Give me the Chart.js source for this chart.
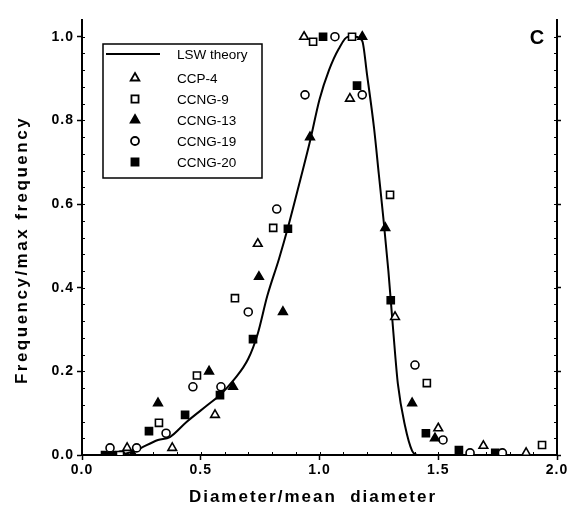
<!DOCTYPE html>
<html>
<head>
<meta charset="utf-8">
<script src="https://cdn.jsdelivr.net/npm/chart.js@4/dist/chart.umd.min.js"></script>
<style>
  html, body { margin: 0; padding: 0; background: #fff; }
  #wrap { width: 572px; height: 516px; }
</style>
</head>
<body>
<div id="wrap"><canvas id="psd-chart" width="572" height="516"></canvas></div>
<script>
// tick labels
const xTicks = [0.0, 0.5, 1.0, 1.5, 2.0];
const yTicks = [0.0, 0.2, 0.4, 0.6, 0.8, 1.0];

// LSW theory curve
const lswX = [0.10, 0.18, 0.23, 0.32, 0.37, 0.44, 0.53, 0.58, 0.64, 0.70, 0.74, 0.78, 0.83, 0.87, 0.92, 0.96, 1.00, 1.04, 1.08, 1.12, 1.15, 1.18, 1.20, 1.23, 1.25, 1.27, 1.29, 1.31, 1.33, 1.36, 1.39, 1.41];
const lswY = [0.00, 0.003, 0.012, 0.036, 0.043, 0.079, 0.12, 0.143, 0.18, 0.23, 0.29, 0.38, 0.47, 0.55, 0.66, 0.75, 0.85, 0.92, 0.97, 1.00, 1.00, 0.99, 0.91, 0.78, 0.67, 0.56, 0.44, 0.30, 0.17, 0.07, 0.01, 0.00];

// measured samples
const ccp4X = [0.19, 0.38, 0.56, 0.74, 0.935, 1.128, 1.318, 1.50, 1.69, 1.87];
const ccp4Y = [0.017, 0.017, 0.096, 0.505, 1.0, 0.852, 0.33, 0.064, 0.022, 0.005];

const ccng9X = [0.16, 0.324, 0.484, 0.644, 0.805, 0.973, 1.137, 1.297, 1.452, 1.937];
const ccng9Y = [0.0, 0.077, 0.19, 0.375, 0.543, 0.988, 1.0, 0.622, 0.172, 0.024];

const ccng13X = [0.215, 0.32, 0.535, 0.636, 0.745, 0.846, 0.96, 1.18, 1.277, 1.39, 1.486];
const ccng13Y = [0.0, 0.124, 0.2, 0.163, 0.426, 0.342, 0.76, 1.0, 0.543, 0.124, 0.04];

const ccng19X = [0.118, 0.164, 0.23, 0.354, 0.467, 0.585, 0.70, 0.82, 0.939, 1.065, 1.18, 1.402, 1.52, 1.634, 1.77];
const ccng19Y = [0.017, 0.0, 0.017, 0.052, 0.163, 0.163, 0.342, 0.588, 0.861, 1.0, 0.861, 0.215, 0.036, 0.005, 0.005];

const ccng20X = [0.097, 0.125, 0.282, 0.434, 0.581, 0.72, 0.867, 1.015, 1.158, 1.30, 1.448, 1.587, 1.74];
const ccng20Y = [0.0, 0.0, 0.057, 0.096, 0.143, 0.277, 0.541, 1.0, 0.883, 0.37, 0.052, 0.012, 0.005];

const xTitle = 'Diameter/mean  diameter';
const yTitle = 'Frequency/max frequency';

function pts(xs, ys) {
    return xs.map((x, i) => ({x: x, y: ys[i]}));
}

function marker(label, xs, ys, style, filled) {
    return {
        label: label,
        data: pts(xs, ys),
        pointStyle: style,
        pointRadius: style === 'circle' ? 4 : 5,
        pointBackgroundColor: filled ? '#000' : '#fff',
        pointBorderColor: '#000',
        pointBorderWidth: 1.6,
        showLine: false
    };
}

const datasets = [
    {
        label: 'LSW theory',
        data: pts(lswX, lswY),
        showLine: true,
        borderColor: '#000',
        borderWidth: 2,
        pointRadius: 0,
        cubicInterpolationMode: 'monotone',
        order: 10
    },
    marker('CCP-4', ccp4X, ccp4Y, 'triangle', false),
    marker('CCNG-9', ccng9X, ccng9Y, 'rect', false),
    marker('CCNG-13', ccng13X, ccng13Y, 'triangle', true),
    marker('CCNG-19', ccng19X, ccng19Y, 'circle', false),
    marker('CCNG-20', ccng20X, ccng20Y, 'rect', true)
];

const FONT = '"Liberation Sans", Arial, sans-serif';

// minor ticks, boxed legend, axis titles, panel letter
const decorations = {
    id: 'decorations',
    beforeDraw(chart) {
        chart.ctx.letterSpacing = '1px';
    },
    afterDraw(chart) {
        const ctx = chart.ctx;
        const xs = chart.scales.x, ys = chart.scales.y;
        const a = chart.chartArea;
        ctx.save();
        ctx.strokeStyle = '#000';
        ctx.lineWidth = 1;
        for (let v = 0.04; v < 1.04; v += 0.04) {
            const py = Math.round(ys.getPixelForValue(v)) + 0.5;
            ctx.beginPath();
            ctx.moveTo(a.left, py); ctx.lineTo(a.left + 3, py);
            ctx.moveTo(a.right, py); ctx.lineTo(a.right - 3, py);
            ctx.stroke();
        }
        for (let v = 0.1; v < 2.0; v += 0.1) {
            const px = Math.round(xs.getPixelForValue(v)) + 0.5;
            ctx.beginPath();
            ctx.moveTo(px, a.bottom); ctx.lineTo(px, a.bottom - 3);
            ctx.stroke();
        }

        // legend box
        const bx = 103, by = 44, bw = 159, bh = 134;
        ctx.fillStyle = '#fff';
        ctx.fillRect(bx, by, bw, bh);
        ctx.lineWidth = 1.5;
        ctx.strokeRect(bx, by, bw, bh);
        const rows = [54, 78, 99, 120, 141, 162];
        ctx.letterSpacing = '0px';
        ctx.font = '13.5px ' + FONT;
        ctx.textBaseline = 'middle';
        chart.data.datasets.forEach((ds, i) => {
            const yy = rows[i];
            if (ds.showLine) {
                ctx.lineWidth = 2;
                ctx.beginPath();
                ctx.moveTo(106, yy); ctx.lineTo(160, yy);
                ctx.stroke();
            } else {
                ctx.fillStyle = ds.pointBackgroundColor;
                ctx.strokeStyle = '#000';
                ctx.lineWidth = 1.8;
                Chart.helpers.drawPoint(ctx, {
                    pointStyle: ds.pointStyle,
                    radius: ds.pointRadius,
                    rotation: 0,
                    borderWidth: 1.8
                }, 135, yy);
            }
            ctx.fillStyle = '#000';
            ctx.fillText(ds.label, 177, yy + 1);
        });

        // axis titles
        ctx.font = 'bold 17px ' + FONT;
        ctx.letterSpacing = '2px';
        ctx.textAlign = 'center';
        ctx.fillText(xTitle, 313, 497);
        ctx.save();
        ctx.translate(22, 250);
        ctx.rotate(-Math.PI / 2);
        ctx.letterSpacing = '2.5px';
        ctx.fillText(yTitle, 0, 0);
        ctx.restore();

        ctx.letterSpacing = '0px';
        ctx.font = 'bold 20px ' + FONT;
        ctx.fillText('C', 537, 38);
        ctx.restore();
    }
};

const tickFont = { family: FONT, size: 14, weight: 'bold' };

new Chart(document.getElementById('psd-chart'), {
    type: 'scatter',
    data: { datasets: datasets },
    options: {
        responsive: false,
        animation: false,
        layout: { padding: { left: 0, right: 0, top: 20, bottom: 0 } },
        plugins: {
            legend: { display: false },
            tooltip: { enabled: false }
        },
        scales: {
            x: {
                min: 0, max: 2.0,
                afterBuildTicks: s => { s.ticks = xTicks.map(v => ({value: v})); },
                afterFit: s => { s.height = 61; },
                ticks: { color: '#000', font: tickFont, padding: 2, maxRotation: 0,
                         callback: v => v.toFixed(1) },
                grid: { drawOnChartArea: false, color: '#000', tickLength: 5, tickWidth: 1.5 },
                border: { color: '#000', width: 2 }
            },
            y: {
                min: 0, max: 1.04,
                afterBuildTicks: s => { s.ticks = yTicks.map(v => ({value: v})); },
                afterFit: s => { s.width = 82; },
                ticks: { color: '#000', font: tickFont, padding: 3,
                         callback: v => v.toFixed(1) },
                grid: { drawOnChartArea: false, color: '#000', tickLength: 5, tickWidth: 1.5 },
                border: { color: '#000', width: 2 }
            },
            y2: {
                position: 'right',
                min: 0, max: 1.04,
                afterBuildTicks: s => { s.ticks = yTicks.map(v => ({value: v})); },
                afterFit: s => { s.width = 15; },
                ticks: { display: false },
                grid: { drawOnChartArea: false, color: '#000', tickLength: 4, tickWidth: 1.5 },
                border: { color: '#000', width: 2 }
            }
        }
    },
    plugins: [decorations]
});
</script>
</body>
</html>
